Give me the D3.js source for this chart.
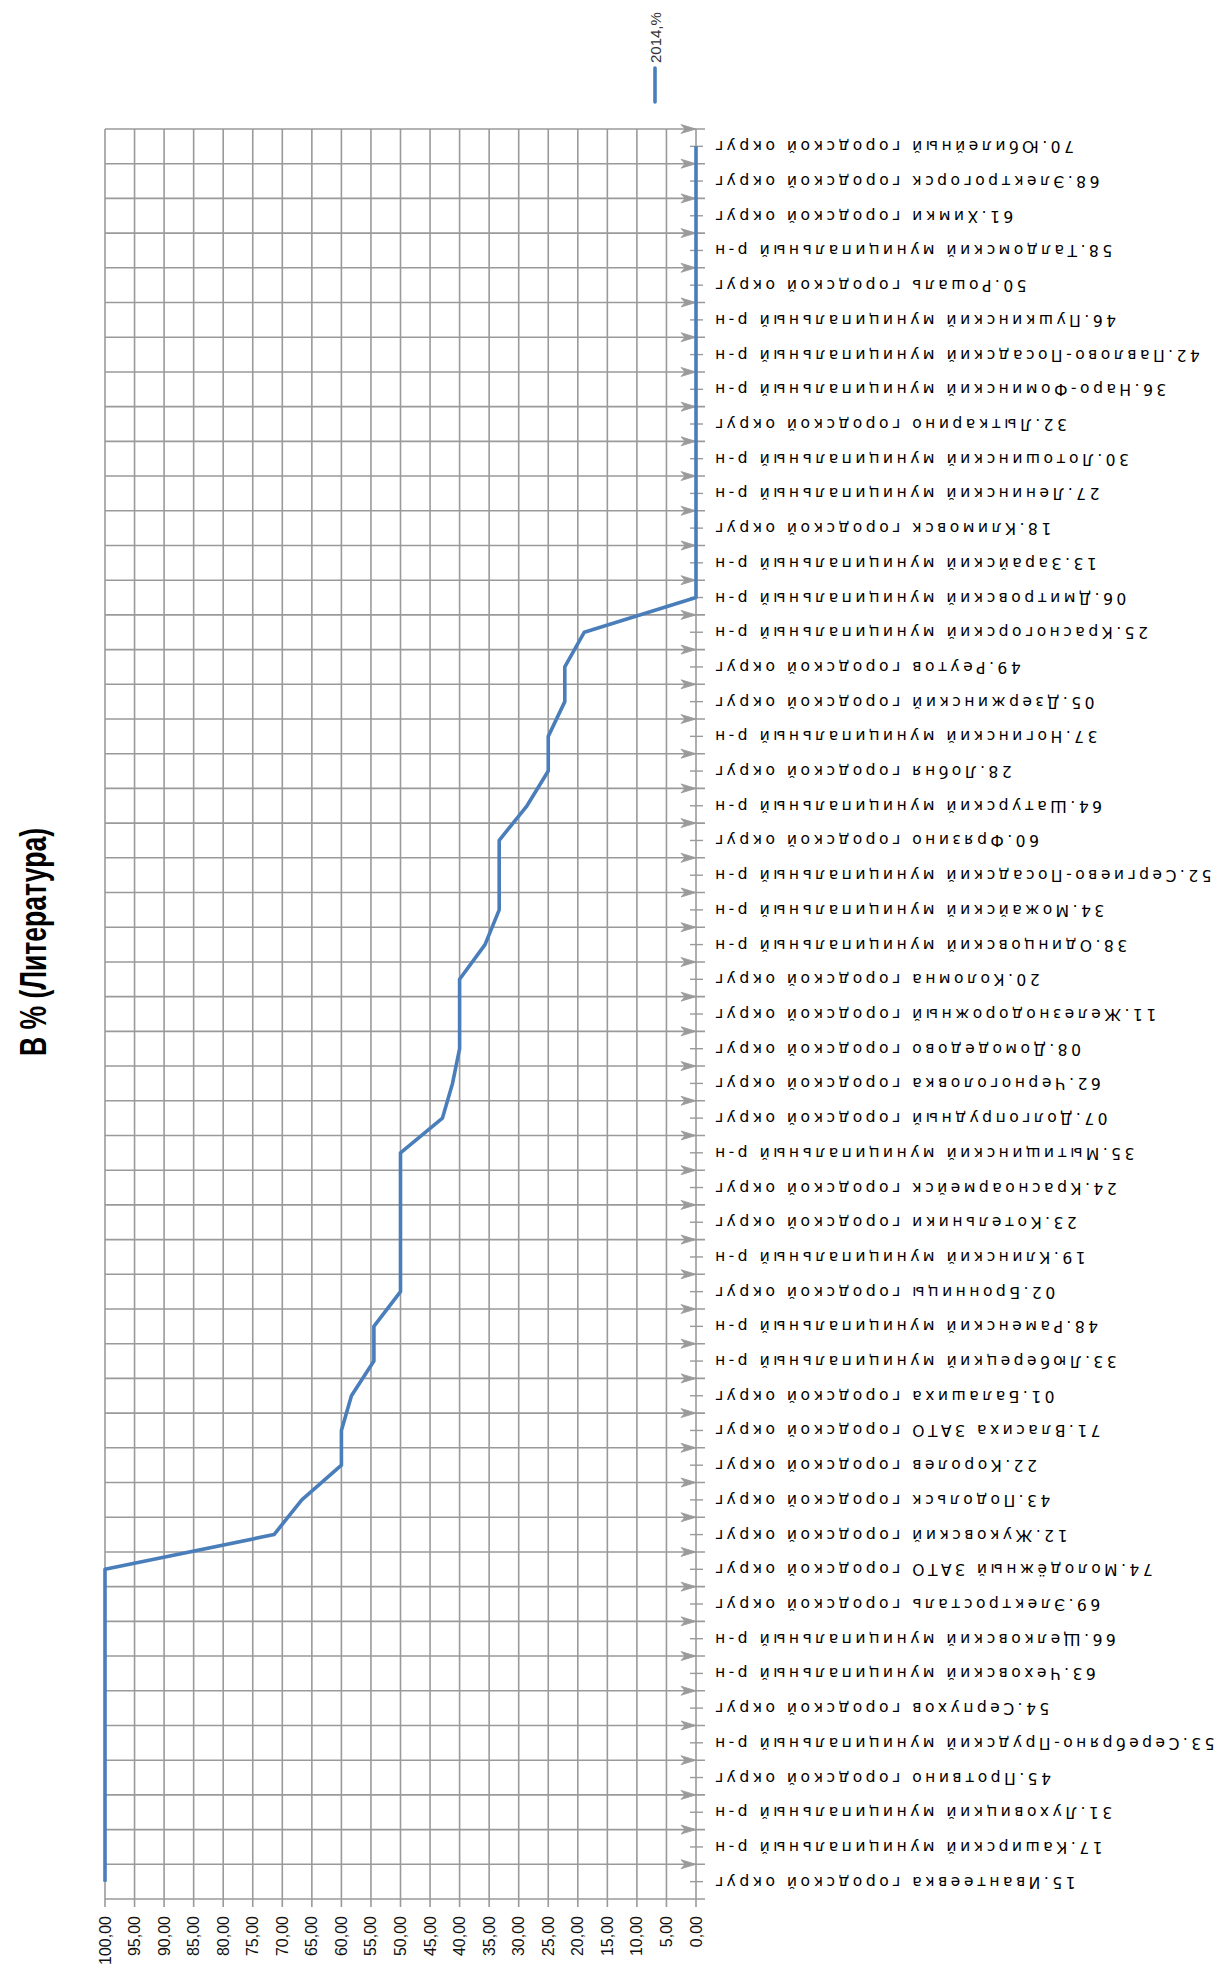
<!DOCTYPE html>
<html><head><meta charset="utf-8">
<script src="https://cdn.jsdelivr.net/npm/d3@7"></script>
<style>
html,body{margin:0;padding:0;background:#fff;}
svg{display:block;}
</style></head>
<body>
<svg id="chart" width="1221" height="1964"></svg>
<script>
// ---- data (top to bottom as drawn) ----
const categories = [
"70.Юбилейный городской округ",
"68.Электрогорск городской округ",
"61.Химки городской округ",
"58.Талдомский муниципальный р-н",
"50.Рошаль городской округ",
"46.Пушкинский муниципальный р-н",
"42.Павлово-Посадский муниципальный р-н",
"36.Наро-Фоминский муниципальный р-н",
"32.Лыткарино городской округ",
"30.Лотошинский муниципальный р-н",
"27.Ленинский муниципальный р-н",
"18.Климовск городской округ",
"13.Зарайский муниципальный р-н",
"06.Дмитровский муниципальный р-н",
"25.Красногорский муниципальный р-н",
"49.Реутов городской округ",
"05.Дзержинский городской округ",
"37.Ногинский муниципальный р-н",
"28.Лобня городской округ",
"64.Шатурский муниципальный р-н",
"60.Фрязино городской округ",
"52.Сергиево-Посадский муниципальный р-н",
"34.Можайский муниципальный р-н",
"38.Одинцовский муниципальный р-н",
"20.Коломна городской округ",
"11.Железнодорожный городской округ",
"08.Домодедово городской округ",
"62.Черноголовка городской округ",
"07.Долгопрудный городской округ",
"35.Мытищинский муниципальный р-н",
"24.Красноармейск городской округ",
"23.Котельники городской округ",
"19.Клинский муниципальный р-н",
"02.Бронницы городской округ",
"48.Раменский муниципальный р-н",
"33.Люберецкий муниципальный р-н",
"01.Балашиха городской округ",
"71.Власиха ЗАТО городской округ",
"22.Королев городской округ",
"43.Подольск городской округ",
"12.Жуковский городской округ",
"74.Молодёжный ЗАТО городской округ",
"69.Электросталь городской округ",
"66.Щелковский муниципальный р-н",
"63.Чеховский муниципальный р-н",
"54.Серпухов городской округ",
"53.Серебряно-Прудский муниципальный р-н",
"45.Протвино городской округ",
"31.Луховицкий муниципальный р-н",
"17.Каширский муниципальный р-н",
"15.Ивантеевка городской округ"
];
const values2014 = [
0,0,0,0,0,0,0,0,0,0,0,0,0,0,
18.9,22.2,22.2,25,25,28.6,33.3,33.3,33.3,35.7,
40,40,40,41.2,42.9,50,50,50,50,50,
54.5,54.5,58.3,60,60,66.7,71.4,
100,100,100,100,100,100,100,100,100,100
];
const valueTicks = [0,5,10,15,20,25,30,35,40,45,50,55,60,65,70,75,80,85,90,95,100];
const seriesName = "2014,%";
const chartTitle = "В % (Литература)";

// ---- layout ----
const svg = d3.select("#chart");
svg.append("rect").attr("width",1221).attr("height",1964).attr("fill","#fff");
const L = 105, R = 696, T = 129, B = 1899;
const gridColor = "#9a9a9a";

const x = d3.scaleLinear().domain([0,100]).range([R, L]);
const y = d3.scaleBand().domain(categories).range([T, B]).padding(0);
const bw = y.bandwidth();
const cy = c => y(c) + bw/2;

const g = svg.append("g");

// vertical gridlines (value ticks), extending below baseline as ticks
g.selectAll("line.vg").data(valueTicks).join("line")
  .attr("x1", d => x(d)).attr("x2", d => x(d))
  .attr("y1", T).attr("y2", B + 8)
  .attr("stroke", gridColor).attr("stroke-width", 1.6);

// horizontal gridlines at category boundaries + baseline
const bounds = categories.map(c => y(c)).concat([B]);
g.selectAll("line.hg").data(bounds).join("line")
  .attr("x1", L).attr("x2", R + 9)
  .attr("y1", d => d).attr("y2", d => d)
  .attr("stroke", gridColor).attr("stroke-width", 1.6);

// arrow-like major tick marks at category boundaries
g.selectAll("path.arr").data(categories).join("path")
  .attr("d", c => { const yy = y(c); return `M${R-15},${yy-4.5}L${R},${yy}L${R-15},${yy+4.5}L${R-11},${yy}Z`; })
  .attr("fill", gridColor).attr("stroke", gridColor).attr("stroke-width", 0.8);

// minor ticks at category centers
g.selectAll("line.mt").data(categories).join("line")
  .attr("x1", R - 6).attr("x2", R + 7)
  .attr("y1", c => cy(c)).attr("y2", c => cy(c))
  .attr("stroke", gridColor).attr("stroke-width", 1.4);

// series line
const line = d3.line().x(d => x(d.v)).y(d => cy(d.c));
const pts = categories.map((c,i) => ({c, v: values2014[i]}));
g.append("path").datum(pts)
  .attr("d", line).attr("fill","none")
  .attr("stroke","#4a7ebb").attr("stroke-width",3.6)
  .attr("stroke-linejoin","round");

// value tick labels (rotated)
const fmt = v => d3.format(".2f")(v).replace(".", ",");
g.selectAll("text.vt").data(valueTicks).join("text")
  .attr("transform", d => `translate(${x(d)},1916) rotate(-90)`)
  .attr("text-anchor","end").attr("dominant-baseline","central")
  .attr("font-family","'Liberation Sans', Arial, sans-serif")
  .attr("font-size", 16).attr("fill","#111")
  .text(fmt);

// category labels (upside down)
const labels = g.selectAll("text.cl").data(categories).join("text")
  .attr("transform", c => `translate(715,${cy(c)}) rotate(180)`)
  .attr("text-anchor","end").attr("dominant-baseline","central")
  .attr("font-family","'DejaVu Sans', Verdana, sans-serif")
  .attr("font-size", 15.5).attr("fill","#000")
  .text(c => c);
// widen letter spacing to match reference label widths
const refIdx = categories.indexOf("35.Мытищинский муниципальный р-н");
const nat = labels.nodes()[refIdx].getComputedTextLength();
const nChars = categories[refIdx].length;
const ls = Math.max(0, (423 - nat) / nChars);
labels.attr("letter-spacing", ls)
  .attr("transform", c => `translate(${715 - ls},${cy(c)}) rotate(180)`);

// title
svg.append("text")
  .attr("transform", "translate(33,942) rotate(-90)")
  .attr("text-anchor","middle").attr("dominant-baseline","central")
  .attr("font-family","'Liberation Sans Narrow', 'Liberation Sans', Arial, sans-serif")
  .attr("font-weight","bold").attr("font-size", 37)
  .attr("textLength", 228).attr("lengthAdjust","spacingAndGlyphs")
  .attr("fill","#000")
  .text(chartTitle);

// legend
svg.append("line").attr("x1",655).attr("x2",655).attr("y1",68).attr("y2",102)
  .attr("stroke","#4a7ebb").attr("stroke-width",3.6).attr("stroke-linecap","round");
svg.append("text")
  .attr("transform","translate(655,63) rotate(-90)")
  .attr("text-anchor","start").attr("dominant-baseline","central")
  .attr("font-family","'Liberation Sans', Arial, sans-serif")
  .attr("font-size", 15).attr("fill","#333")
  .text(seriesName);
</script>
</body></html>
